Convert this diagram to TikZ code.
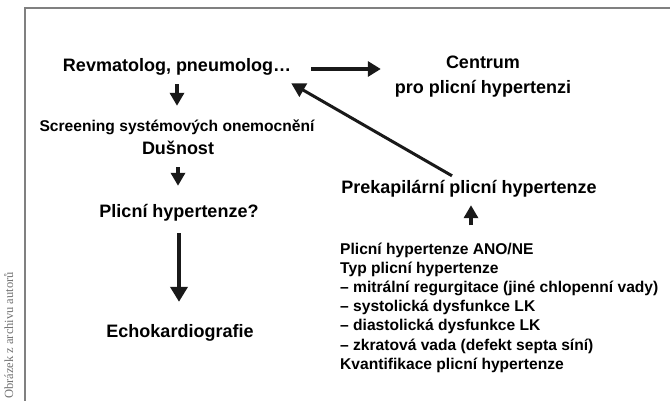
\documentclass[tikz,border=0pt]{standalone}
\usepackage{fontspec}
\setmainfont{Liberation Sans}
\newfontfamily\capfont{Liberation Serif}
\usetikzlibrary{arrows.meta}

\begin{document}
\begin{tikzpicture}[x=1pt,y=-1pt,
  big/.style={font=\bfseries\fontsize{18}{25}\selectfont, inner sep=0pt,
    text height=13pt, text depth=4pt, anchor=base},
  small/.style={font=\bfseries\fontsize{15.6}{19.2}\selectfont, inner sep=0pt},
  arr/.style={line width=3.3pt, draw=black!90, -{Triangle[length=13pt,width=14pt]}},
  frame/.style={line width=2pt, draw=black!50}]
\useasboundingbox (0,0) rectangle (670,401);
\draw[frame] (670,8) -- (24.5,8) -- (24.5,401);
\node[font=\capfont\fontsize{12.5}{14}\selectfont, text=black!55, rotate=90,
  anchor=base west, inner sep=0pt] (credit) at (13,399) {Obrázek z archivu autorů};
% left column
\node[big] (rev) at (177,72) {Revmatolog, pneumolog…};
\node[small, anchor=base, text height=11.5pt, text depth=3.5pt] (screen) at (177,132)
  {Screening systémových onemocnění};
\node[big] (dusnost) at (178,155) {Dušnost};
\node[big] (plicni) at (179,218) {Plicní hypertenze?};
\node[big] (echo) at (180,337) {Echokardiografie};
% right column
\node[font=\bfseries\fontsize{18}{25}\selectfont, align=center, inner sep=0pt]
  (centrum) at (483,77) {Centrum\\pro plicní hypertenzi};
\node[big] (prekap) at (469,194) {Prekapilární plicní hypertenze};
\node[small, align=left, anchor=north west] (list) at (340,242.5)
  {Plicní hypertenze ANO/NE\\
   Typ plicní hypertenze\\
   – mitrální regurgitace (jiné chlopenní vady)\\
   – systolická dysfunkce LK\\
   – diastolická dysfunkce LK\\
   – zkratová vada (defekt septa síní)\\
   Kvantifikace plicní hypertenze};
% arrows
\draw[arr, shorten <=8pt, shorten >=14.5pt] (rev.south) -- (screen.north);
\draw[arr, shorten <=8pt, shorten >=19pt] (dusnost.south) -- (dusnost.south |- plicni.north);
\draw[arr, line width=4pt, -{Triangle[length=15pt,width=17pt]}, shorten <=11pt, shorten >=22pt]
  (plicni.south) -- (plicni.south |- echo.north);
\draw[arr, -{Triangle[length=13pt,width=15pt]}, shorten <=20pt, shorten >=14pt]
  ([yshift=-1.5pt]rev.east) -- ([yshift=-1.5pt]rev.east -| centrum.west);
\draw[arr, line width=3pt, -{Triangle[length=14pt,width=15pt]}]
  ([xshift=-17pt,yshift=5pt]prekap.north) -- ([yshift=-7pt]rev.south east);
\draw[arr, shorten <=17pt, shorten >=7pt] ([xshift=2pt]prekap.south |- list.north)
  -- ([xshift=2pt]prekap.south);
\end{tikzpicture}
\end{document}
